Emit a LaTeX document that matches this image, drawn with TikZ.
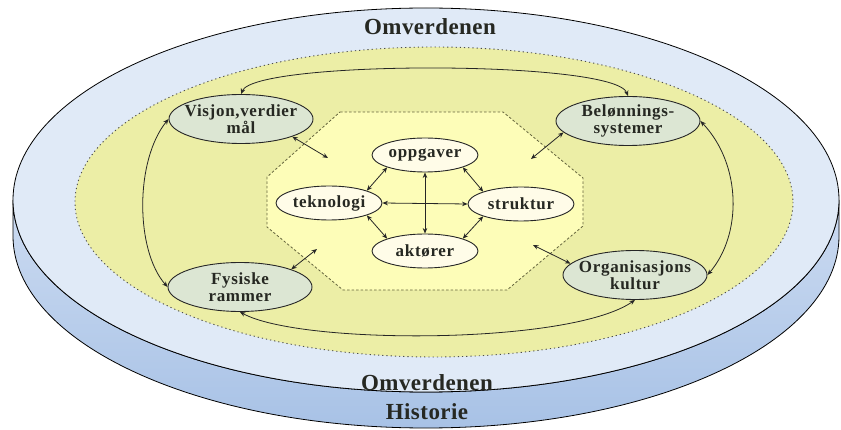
\documentclass[tikz,border=0pt]{standalone}
\usepackage{fontspec}
\setmainfont{Liberation Serif}
\usetikzlibrary{shapes.geometric,arrows.meta}

\definecolor{discTop}{RGB}{224,234,247}
\definecolor{discSideA}{RGB}{204,219,241}
\definecolor{discSideB}{RGB}{168,194,230}
\definecolor{ring}{RGB}{236,238,166}
\definecolor{core}{RGB}{253,253,184}
\definecolor{sage}{RGB}{220,230,211}
\definecolor{cream}{RGB}{255,252,232}
\definecolor{ink}{RGB}{38,40,34}
\definecolor{olive}{RGB}{100,100,60}

\tikzset{
  lbl/.style={font=\bfseries\fontsize{17}{17}\selectfont\addfontfeature{LetterSpace=4},
              text=ink, align=center},
  bigtxt/.style={font=\bfseries\fontsize{23}{23}\selectfont\addfontfeature{LetterSpace=2},
              text=ink, inner sep=0pt},
  outerell/.style={ellipse, draw=black!85, line width=0.9pt, fill=sage,
              minimum width=144pt, minimum height=49pt, inner sep=0pt},
  innerell/.style={ellipse, draw=black!85, line width=0.9pt, fill=cream,
              minimum width=106pt, minimum height=34pt, inner sep=0pt, lbl},
  tip/.tip={Stealth[length=5.5pt,width=4.5pt]},
  biarrow/.style={tip-tip, line width=0.8pt, draw=black!85},
}

\begin{document}
\begin{tikzpicture}[x=1pt,y=-1pt]
\useasboundingbox (0,0) rectangle (841,430);

% side of the disc
\path[top color=discSideA, bottom color=discSideB, draw=black, line width=0.8pt]
  (13,200) -- (13,236)
  arc[start angle=180, end angle=0, x radius=413, y radius=192]
  -- (839,200)
  arc[start angle=0, end angle=180, x radius=413, y radius=192] -- cycle;

% top face of the disc
\path[fill=discTop, draw=black, line width=0.8pt]
  (426,200) ellipse[x radius=413, y radius=192];

% organisation ring
\path[fill=ring, draw=black!70, line width=0.9pt, dash pattern=on 1.2pt off 3pt]
  (434,202) ellipse[x radius=359, y radius=155];

% core octagon
\path[fill=core, draw=olive, line width=0.8pt, dash pattern=on 2.5pt off 2pt]
  (340,112) -- (503,112) -- (583,178) -- (583,226) -- (507,290)
  -- (343,290) -- (267,227) -- (267,177) -- cycle;

% texts on the disc
\node[bigtxt] (omvTop) at (430,27) {Omverdenen};
\node[bigtxt] (omvBot) at (427,383) {Omverdenen};
\node[bigtxt] (hist) at (427,412) {Historie};

% outer factors
\node[outerell, label={[lbl]center:{Visjon,verdier\\mål}}] (vis) at (241,119) {};
\node[outerell, label={[lbl]center:{Belønnings-\\systemer}}] (bel) at (628,121) {};
\node[outerell, label={[lbl]center:{Fysiske\\rammer}}] (fys) at (240,287) {};
\node[outerell, label={[lbl]center:{Organisasjons\\kultur}}] (org) at (635,275) {};

% inner factors
\node[innerell] (opp) at (425,155) {oppgaver};
\node[innerell] (tek) at (329,203) {teknologi};
\node[innerell] (str) at (521,204) {struktur};
\node[innerell] (akt) at (425,251) {aktører};

% links inside the core
\draw[biarrow] (opp.south) -- (akt.north);
\draw[biarrow] (tek.east) -- (str.west);
\draw[biarrow] (opp.south west) -- (tek.north east);
\draw[biarrow] (opp.south east) -- (str.north west);
\draw[biarrow] (tek.south east) -- (akt.north west);
\draw[biarrow] (str.south west) -- (akt.north east);

% links from the outer factors into the core
\coordinate (visEnd) at (328,158);
\coordinate (belEnd) at (531,159);
\coordinate (fysEnd) at (317,249);
\coordinate (orgEnd) at (533,245);
\draw[biarrow] (vis.south east) -- (visEnd);
\draw[biarrow] (bel.190) -- (belEnd);
\draw[biarrow] (fys.north east) -- (fysEnd);
\draw[biarrow] (org.170) -- (orgEnd);

% links between the outer factors
\draw[biarrow] (vis.north) .. controls (255,60) and (615,60) .. (bel.north);
\draw[biarrow] (vis.west) .. controls (135,160) and (135,250) .. (fys.west);
\draw[biarrow] (bel.east) .. controls (742,165) and (742,235) .. (org.east);
\draw[biarrow] (fys.south) .. controls (300,345) and (570,345) .. (org.south);
\end{tikzpicture}
\end{document}
